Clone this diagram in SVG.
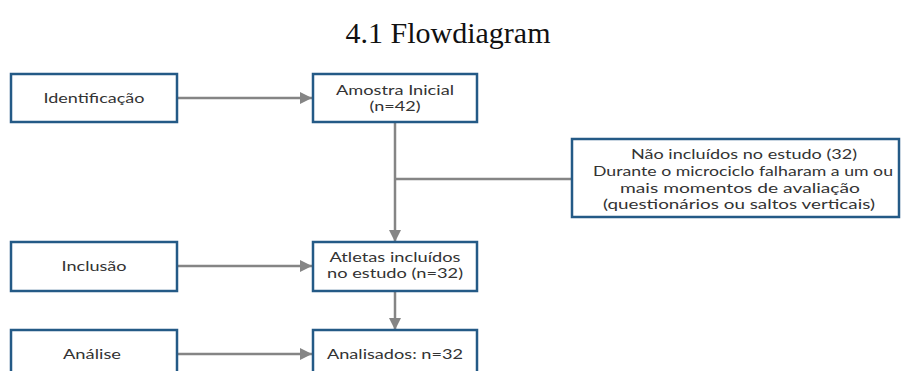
<svg xmlns="http://www.w3.org/2000/svg" width="902" height="371" viewBox="0 0 902 371">
<style>
.box{fill:#fff;stroke:#245a86;stroke-width:2.5}
.t{font-family:Lato,"Noto Sans","DejaVu Sans",sans-serif;font-size:13px;fill:#333;text-anchor:middle}
.c{stroke:#858585;stroke-width:2.5;fill:none}
.title{font-family:"Liberation Serif","Times New Roman",serif;font-size:30px;fill:#111;text-anchor:middle}
</style>
<defs>
<marker id="ah" markerUnits="userSpaceOnUse" markerWidth="13" markerHeight="12" refX="12" refY="6" orient="auto">
<path d="M0,0 L12,6 L0,12 z" fill="#858585"/>
</marker>
</defs>
<rect width="902" height="371" fill="#fff"/>
<text class="title" x="448" y="43">4.1 Flowdiagram</text>
<g id="connectors">
<line class="c" x1="177" y1="98" x2="312" y2="98" marker-end="url(#ah)"/>
<line class="c" x1="395" y1="122" x2="395" y2="242" marker-end="url(#ah)"/>
<line class="c" x1="395" y1="179" x2="572" y2="179"/>
<line class="c" x1="177" y1="266" x2="312" y2="266" marker-end="url(#ah)"/>
<line class="c" x1="395" y1="291" x2="395" y2="330" marker-end="url(#ah)"/>
<line class="c" x1="177" y1="354" x2="312" y2="354" marker-end="url(#ah)"/>
</g>
<g id="identificacao">
<rect class="box" x="11" y="74" width="166" height="48"/>
<text class="t" x="94" y="103" textLength="101" lengthAdjust="spacingAndGlyphs">Identificação</text>
</g>
<g id="amostra">
<rect class="box" x="313" y="74" width="164" height="48"/>
<text class="t" x="395" y="95" textLength="118" lengthAdjust="spacingAndGlyphs">Amostra Inicial</text>
<text class="t" x="395" y="111" textLength="51" lengthAdjust="spacingAndGlyphs">(n=42)</text>
</g>
<g id="nao-incluidos">
<rect class="box" x="572" y="139" width="327" height="78"/>
<text class="t" x="744" y="159" textLength="226" lengthAdjust="spacingAndGlyphs">Não incluídos no estudo (32)</text>
<text class="t" x="743" y="176" textLength="300" lengthAdjust="spacingAndGlyphs">Durante o microciclo falharam a um ou</text>
<text class="t" x="740" y="193" textLength="240" lengthAdjust="spacingAndGlyphs">mais momentos de avaliação</text>
<text class="t" x="739" y="209" textLength="272" lengthAdjust="spacingAndGlyphs">(questionários ou saltos verticais)</text>
</g>
<g id="inclusao">
<rect class="box" x="11" y="242" width="166" height="49"/>
<text class="t" x="94" y="271" textLength="65" lengthAdjust="spacingAndGlyphs">Inclusão</text>
</g>
<g id="atletas">
<rect class="box" x="313" y="242" width="164" height="49"/>
<text class="t" x="395" y="262" textLength="131" lengthAdjust="spacingAndGlyphs">Atletas incluídos</text>
<text class="t" x="395" y="278" textLength="136" lengthAdjust="spacingAndGlyphs">no estudo (n=32)</text>
</g>
<g id="analise">
<rect class="box" x="11" y="330" width="166" height="50"/>
<text class="t" x="92" y="359" textLength="58" lengthAdjust="spacingAndGlyphs">Análise</text>
</g>
<g id="analisados">
<rect class="box" x="313" y="330" width="164" height="50"/>
<text class="t" x="395" y="359" textLength="136" lengthAdjust="spacingAndGlyphs">Analisados: n=32</text>
</g>
</svg>
